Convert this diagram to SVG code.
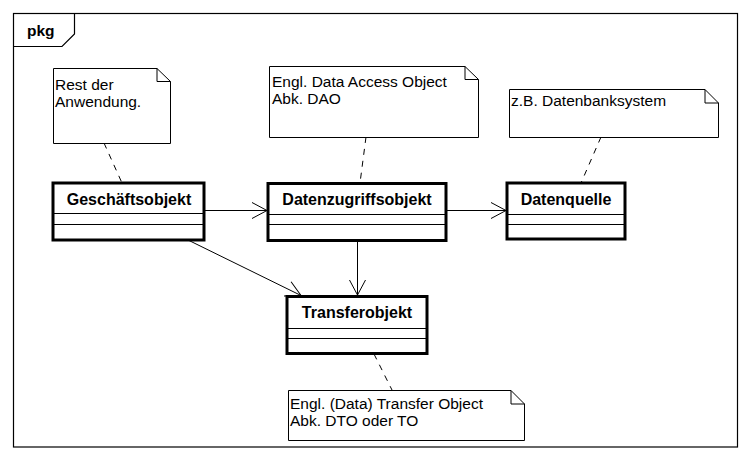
<svg xmlns="http://www.w3.org/2000/svg" width="750" height="461" viewBox="0 0 750 461">
<style>
.frame{fill:none;stroke:#000;stroke-width:1.2}
.cls{fill:#fff;stroke:#000;stroke-width:3}
.sep{stroke:#000;stroke-width:1;fill:none}
.note{fill:#fff;stroke:#000;stroke-width:1}
.ct{font-family:"Liberation Sans",Arial,sans-serif;font-weight:bold;font-size:16px;text-anchor:middle;fill:#000}
.nt{font-family:"Liberation Sans",Arial,sans-serif;font-size:15.5px;fill:#000}
.edge{stroke:#000;stroke-width:1;fill:none}
.dash{stroke:#000;stroke-width:1;fill:none;stroke-dasharray:6,6}
</style>
<defs>
<marker id="open" markerUnits="userSpaceOnUse" markerWidth="20" markerHeight="20" viewBox="-17 -10 19 20" refX="0" refY="0" orient="auto">
<path d="M-15,-8 L0,0 L-15,8" fill="none" stroke="#000" stroke-width="1"/>
</marker>
</defs>
<rect x="0" y="0" width="750" height="461" fill="#fff"/>
<g id="frame">
<rect class="frame" x="13.5" y="13.5" width="724" height="433.5"/>
<path class="frame" d="M13.5,46.5 L62,46.5 L74.5,34 L74.5,13.5"/>
<text x="27" y="36" font-family="Liberation Sans,Arial,sans-serif" font-weight="bold" font-size="15.5">pkg</text>
</g>
<g id="connectors">
<line class="edge" x1="204" y1="210.5" x2="267" y2="210.5" marker-end="url(#open)"/>
<line class="edge" x1="446" y1="210.5" x2="506" y2="210.5" marker-end="url(#open)"/>
<line class="edge" x1="188" y1="240" x2="301" y2="295.5" marker-end="url(#open)"/>
<line class="edge" x1="357.5" y1="241" x2="357.5" y2="295" marker-end="url(#open)"/>
<line class="dash" x1="104" y1="143" x2="122" y2="183"/>
<line class="dash" x1="366" y1="137" x2="360" y2="183"/>
<line class="dash" x1="601" y1="137" x2="581" y2="183"/>
<line class="dash" x1="374" y1="354" x2="392" y2="390"/>
</g>
<g id="note1">
<path class="note" d="M53.5,68.5 L157,68.5 L170.5,81.5 L170.5,143.5 L53.5,143.5 Z M157,68.5 L157,81.5 L170.5,81.5"/>
<text class="nt" x="55" y="90">Rest der</text>
<text class="nt" x="55" y="107">Anwendung.</text>
</g>
<g id="note2">
<path class="note" d="M269.5,66.5 L465,66.5 L478.5,79.5 L478.5,137.5 L269.5,137.5 Z M465,66.5 L465,79.5 L478.5,79.5"/>
<text class="nt" x="272" y="87">Engl. Data Access Object</text>
<text class="nt" x="272" y="104">Abk. DAO</text>
</g>
<g id="note3">
<path class="note" d="M509.5,89.5 L705,89.5 L718.5,103 L718.5,137.5 L509.5,137.5 Z M705,89.5 L705,103 L718.5,103"/>
<text class="nt" x="511" y="106">z.B. Datenbanksystem</text>
</g>
<g id="note4">
<path class="note" d="M288.5,390.5 L511,390.5 L524.5,404 L524.5,440.5 L288.5,440.5 Z M511,390.5 L511,404 L524.5,404"/>
<text class="nt" x="290" y="409">Engl. (Data) Transfer Object</text>
<text class="nt" x="290" y="426">Abk. DTO oder TO</text>
</g>
<g id="geschaeftsobjekt">
<rect class="cls" x="53" y="183" width="151" height="57"/>
<line class="sep" x1="53" y1="213.5" x2="204" y2="213.5"/>
<line class="sep" x1="53" y1="224.5" x2="204" y2="224.5"/>
<text class="ct" x="129" y="205">Geschäftsobjekt</text>
</g>
<g id="datenzugriffsobjekt">
<rect class="cls" x="268" y="183.5" width="178" height="57"/>
<line class="sep" x1="268" y1="214.5" x2="446" y2="214.5"/>
<line class="sep" x1="268" y1="224.5" x2="446" y2="224.5"/>
<text class="ct" x="357" y="205">Datenzugriffsobjekt</text>
</g>
<g id="datenquelle">
<rect class="cls" x="507" y="183" width="118" height="56"/>
<line class="sep" x1="507" y1="214.5" x2="625" y2="214.5"/>
<line class="sep" x1="507" y1="224.5" x2="625" y2="224.5"/>
<text class="ct" x="566" y="205">Datenquelle</text>
</g>
<g id="transferobjekt">
<rect class="cls" x="287" y="296.5" width="140" height="57"/>
<line class="sep" x1="287" y1="328.5" x2="427" y2="328.5"/>
<line class="sep" x1="287" y1="338.5" x2="427" y2="338.5"/>
<text class="ct" x="357" y="318">Transferobjekt</text>
</g>
</svg>
